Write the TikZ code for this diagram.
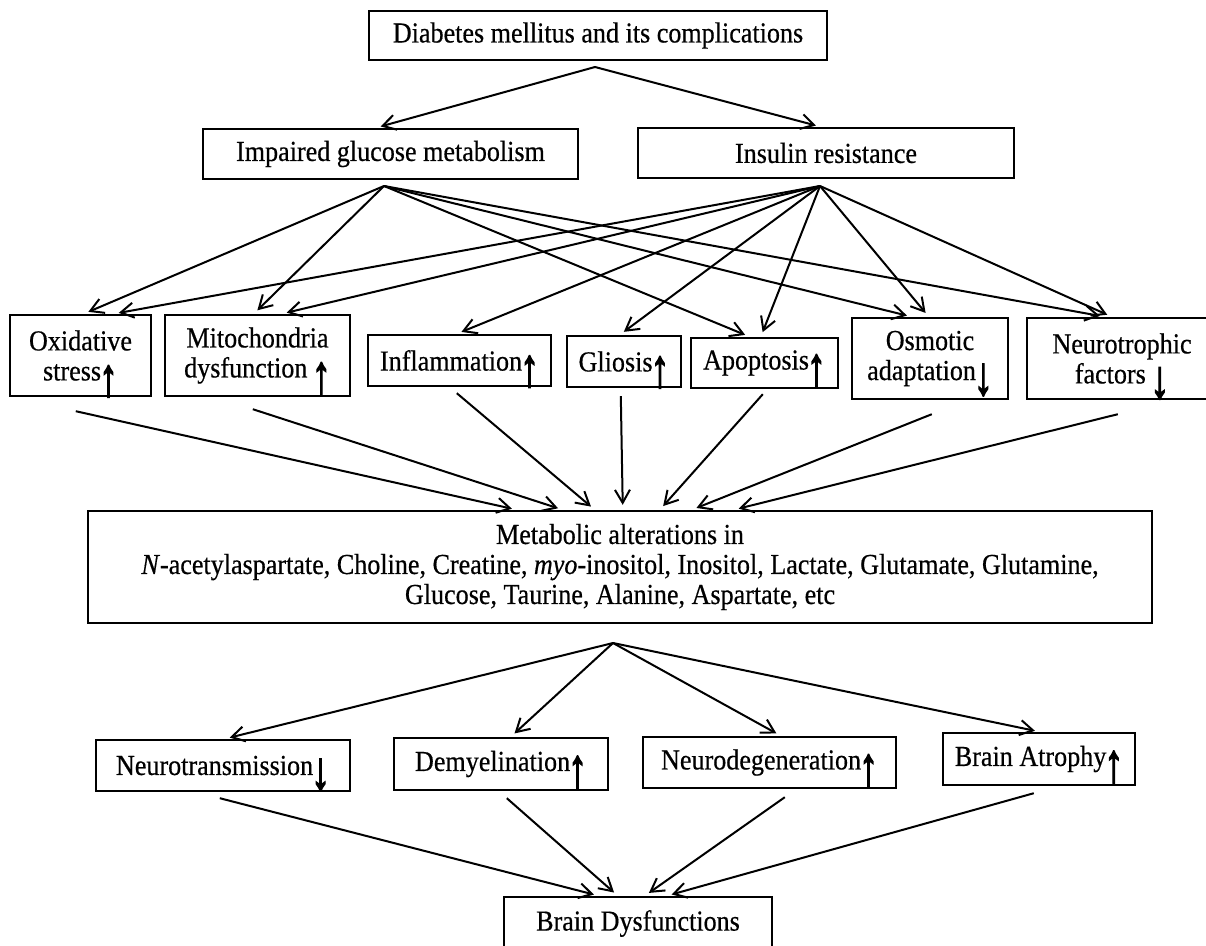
\documentclass[tikz,border=0pt]{standalone}
\usepackage{graphicx}
\usepackage{fontspec}
\setmainfont{Liberation Serif}[FakeStretch=0.9, FakeBold=0.5]
\newfontfamily\arrfont{Liberation Serif}[FakeBold=3]
\usetikzlibrary{arrows.meta, positioning, calc}

% tall up/down arrows set after the labels
\newcommand{\uparr}{\kern-2pt\raisebox{-17pt}[0pt][0pt]{\resizebox*{1.3\width}{32pt}{\raisebox{\depth}{\arrfont ↑}}}}
\newcommand{\dnarr}{\kern-2pt\raisebox{-16pt}[0pt][0pt]{\resizebox*{1.3\width}{32pt}{\raisebox{\depth}{\arrfont ↓}}}}

\begin{document}
\begin{tikzpicture}[x=1pt, y=-1pt,
  box/.style={rectangle, draw=black, line width=2.4pt, fill=white, align=center,
              inner sep=2pt, font=\fontsize{29}{30}\selectfont},
  arr/.style={-{Straight Barb[length=13pt, width=15pt]}, line width=2pt, black,
              shorten >=5pt}
]
\clip (0,0) rectangle (1206,945);

% top levels
\node[box, minimum width=458, minimum height=49] (dm) at (598,35.5)
  {Diabetes mellitus and its complications};
\node[box, minimum width=375, minimum height=50] (igm) at (390.5,154)
  {Impaired glucose metabolism};
\node[box, minimum width=376, minimum height=50] (ir) at (826,153)
  {Insulin resistance};

% middle row
\node[box, minimum width=141, minimum height=81] (oxi) at (80.5,355.5)
  {Oxidative\\stress\uparr};
\node[box, minimum width=185, minimum height=81] (mito) at (257.5,355.5)
  {Mitochondria\\dysfunction \uparr};
\node[box, minimum width=183, minimum height=51] (infl) at (459.5,360.5)
  {Inflammation\uparr};
\node[box, minimum width=114, minimum height=51] (glio) at (624,361.5)
  {Gliosis\uparr};
\node[box, minimum width=147, minimum height=50] (apop) at (764.5,363)
  {Apoptosis\uparr};
\node[box, minimum width=156, minimum height=81] (osmo) at (930,358.5)
  {Osmotic\\adaptation\dnarr};
\node[box, minimum width=190, minimum height=81] (neuro) at (1122,358.5)
  {Neurotrophic\\factors \dnarr};

\node[box, minimum width=1064, minimum height=112] (meta) at (620,567)
  {Metabolic alterations in\\\textit{N}-acetylaspartate, Choline, Creatine,
   \textit{myo}-inositol, Inositol, Lactate, Glutamate, Glutamine,\\Glucose,
   Taurine, Alanine, Aspartate, etc};

% bottom rows
\node[box, minimum width=254, minimum height=51] (ntr) at (223,765.5)
  {Neurotransmission\dnarr};
\node[box, minimum width=214, minimum height=52] (demy) at (501,764)
  {Demyelination\uparr};
\node[box, minimum width=253, minimum height=51] (ndeg) at (769.5,762.5)
  {Neurodegeneration\uparr};
\node[box, minimum width=192, minimum height=52] (atro) at (1039,759)
  {Brain Atrophy\uparr};
\node[box, minimum width=268, minimum height=53] (bdys) at (638,923.5)
  {Brain Dysfunctions};

\coordinate (dm-o) at (595,67);
\coordinate (igm-o) at (384,186);
\coordinate (ir-o) at (820,186);
\coordinate (meta-o) at (613,643);

\draw[arr] (dm-o) -- ([xshift=174pt]igm.north west);
\draw[arr] (dm-o) -- ([xshift=184pt]ir.north west);

% impaired glucose metabolism
\draw[arr] (igm-o) -- ([xshift=75pt]oxi.north west);
\draw[arr] (igm-o) -- ([xshift=90pt]mito.north west);
\draw[arr] (igm-o) -- ([xshift=60pt]apop.north west);
\draw[arr] (igm-o) -- ([xshift=61pt]osmo.north west);
\draw[arr] (igm-o) -- ([xshift=79pt]neuro.north west);

% insulin resistance
\draw[arr] (ir-o) -- ([xshift=105pt]oxi.north west);
\draw[arr] (ir-o) -- ([xshift=118pt]mito.north west);
\draw[arr] (ir-o) -- ([xshift=90pt]infl.north west);
\draw[arr] (ir-o) -- ([xshift=54pt]glio.north west);
\draw[arr] (ir-o) -- ([xshift=71pt]apop.north west);
\draw[arr] (ir-o) -- ([xshift=78pt]osmo.north west);
\draw[arr] (ir-o) -- ([xshift=86pt]neuro.north west);

% into metabolic alterations
\draw[arr] ([xshift=67pt,yshift=-14pt]oxi.south west) -- ([xshift=430pt]meta.north west);
\draw[arr] ([xshift=89pt,yshift=-12pt]mito.south west) -- ([xshift=476pt]meta.north west);
\draw[arr] ([xshift=90pt,yshift=-6pt]infl.south west) -- ([xshift=508pt]meta.north west);
\draw[arr] ([xshift=55pt,yshift=-8pt]glio.south west) -- ([xshift=536pt]meta.north west);
\draw[arr] ([xshift=73pt,yshift=-5pt]apop.south west) -- ([xshift=573pt]meta.north west);
\draw[arr] ([xshift=81pt,yshift=-14pt]osmo.south west) -- ([xshift=605pt]meta.north west);
\draw[arr] ([xshift=92pt,yshift=-14pt]neuro.south west) -- ([xshift=647pt]meta.north west);

% consequences
\draw[arr] (meta-o) -- ([xshift=130pt]ntr.north west);
\draw[arr] (meta-o) -- ([xshift=118pt]demy.north west);
\draw[arr] (meta-o) -- ([xshift=139pt]ndeg.north west);
\draw[arr] (meta-o) -- ([xshift=98pt]atro.north west);

\draw[arr] ([xshift=125pt,yshift=-6pt]ntr.south west) -- ([xshift=96pt]bdys.north west);
\draw[arr] ([xshift=114pt,yshift=-7pt]demy.south west) -- ([xshift=115pt]bdys.north west);
\draw[arr] ([xshift=143pt,yshift=-8pt]ndeg.south west) -- ([xshift=142pt]bdys.north west);
\draw[arr] ([xshift=92pt,yshift=-7pt]atro.south west) -- ([xshift=164pt]bdys.north west);
\end{tikzpicture}
\end{document}
